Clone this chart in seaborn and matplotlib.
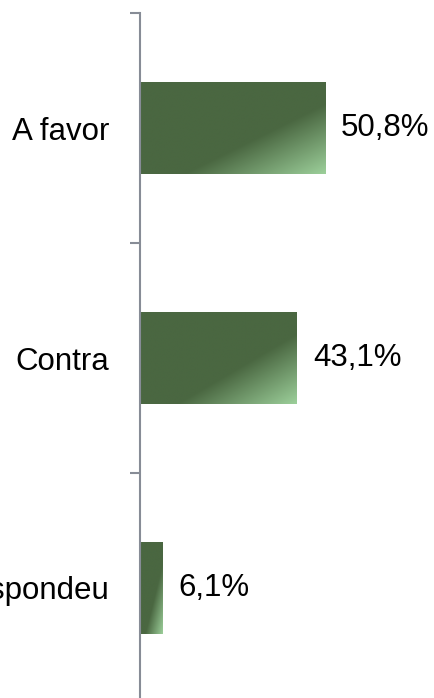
import numpy as np
import pandas as pd
import matplotlib
matplotlib.use("Agg")
import matplotlib.pyplot as plt
import seaborn as sns
from matplotlib.colors import LinearSegmentedColormap

categories = ["A favor", "Contra", "Não respondeu"]
values = [50.8, 43.1, 6.1]
value_labels = ["50,8%", "43,1%", "6,1%"]

sns.set_theme(style="white")
plt.rcParams['font.family'] = ['Liberation Sans', 'DejaVu Sans']

fig = plt.figure(figsize=(4.35, 6.98), dpi=100)
ax = fig.add_axes([140/435, -5/698, 295/435, 690/698])

df = pd.DataFrame({"cat": categories, "val": values})
sns.barplot(data=df, x="val", y="cat", orient="h", width=0.4, color="#4a6741",
            ax=ax, saturation=1)

ax.set_xlim(0, 81)
ax.set_ylim(2.5, -0.5)

# gradient fill for bars
dark = "#4a6741"
light = "#9ccf9a"
cmap = LinearSegmentedColormap.from_list("g", [(0, dark), (0.62, dark), (1.0, light)])
n = 200
u = np.linspace(0, 1, n)
U, V = np.meshgrid(u, u)
grad = (U + V) / 2.0
for p in list(ax.patches):
    x0, y0 = p.get_x(), p.get_y()
    w, h = p.get_width(), p.get_height()
    im = ax.imshow(grad, cmap=cmap, vmin=0, vmax=1, aspect="auto",
                   extent=[x0, x0 + w, y0 + h, y0], origin="upper",
                   interpolation="bilinear", zorder=2)
    im.set_clip_path(p)
    p.set_facecolor("none")
    p.set_edgecolor("none")
ax.set_xlim(0, 81)
ax.set_ylim(2.5, -0.5)

for i, (v, lab) in enumerate(zip(values, value_labels)):
    ax.annotate(lab, xy=(v, i), xytext=(11.5, 0), textcoords="offset points",
                ha="left", va="center", fontsize=22.5, color="black")

for s in ["top", "right", "bottom"]:
    ax.spines[s].set_visible(False)
ax.spines["left"].set_color("#878c96")
ax.spines["left"].set_linewidth(1.5)

ax.set_xticks([])
ax.set_xlabel("")
ax.set_ylabel("")
ax.set_yticks([-0.5, 0.5, 1.5, 2.5])
ax.set_yticklabels([])
ax.tick_params(axis="y", which="major", length=7.2, width=1.5, color="#878c96", left=True)
ax.set_yticks([0, 1, 2], minor=True)
ax.set_yticklabels(categories, minor=True, fontsize=22.5, color="black")
ax.tick_params(axis="y", which="minor", length=0, pad=22.3)

fig.savefig("out.png", dpi=100)
